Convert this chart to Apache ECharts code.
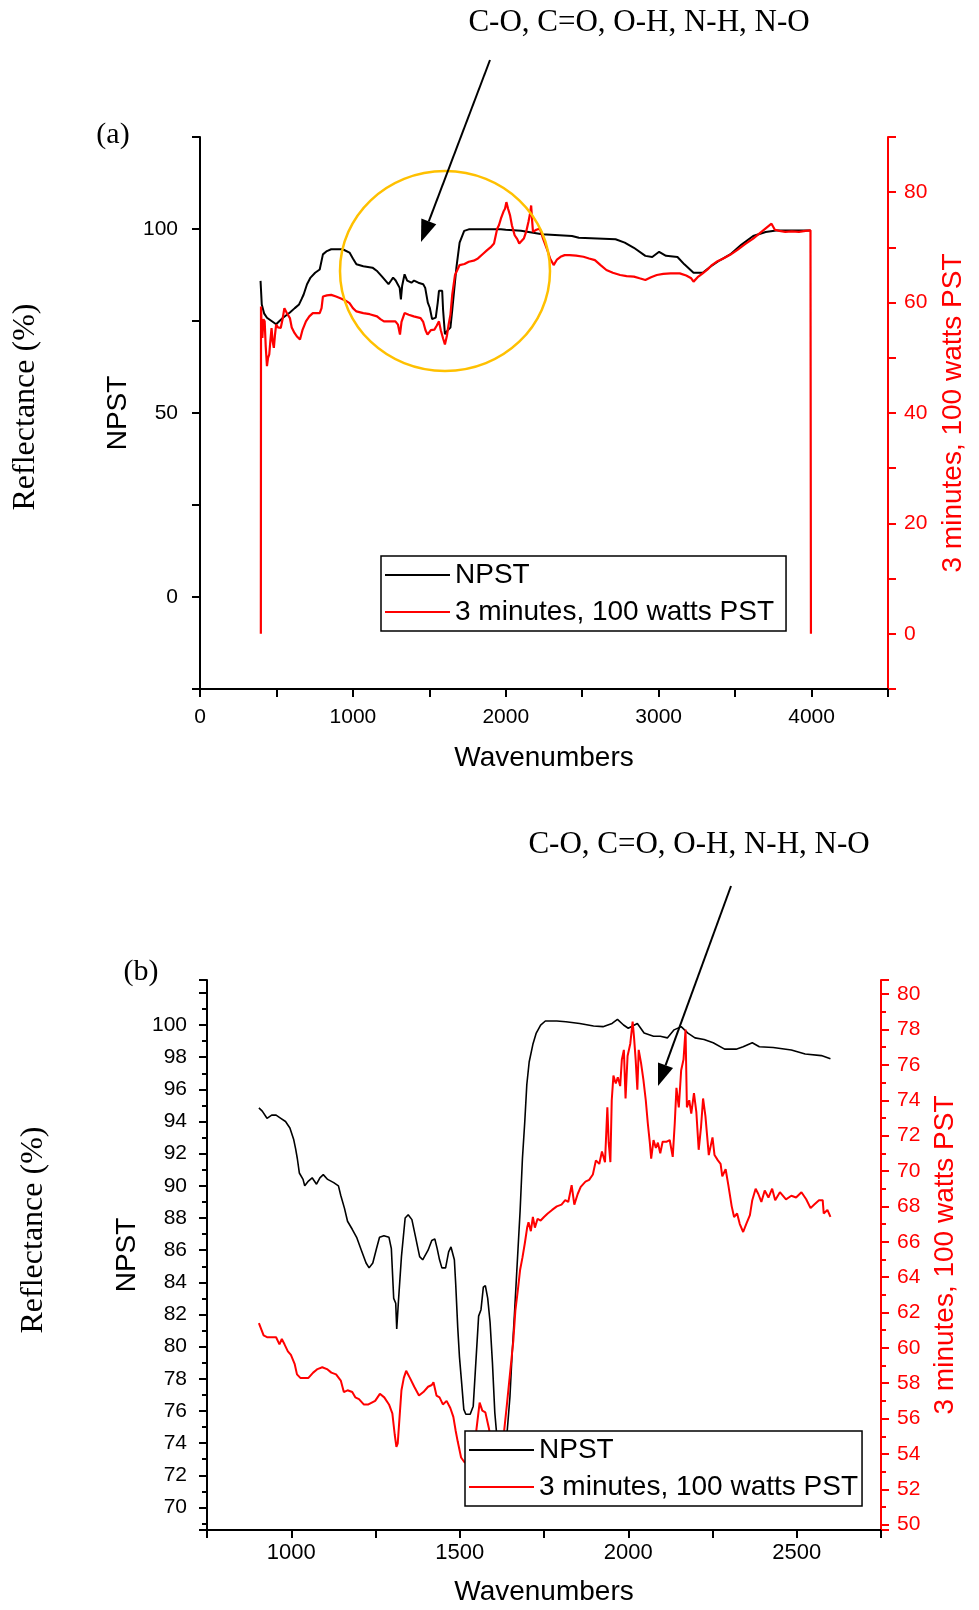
<!DOCTYPE html>
<html>
<head>
<meta charset="utf-8">
<script src="https://cdn.jsdelivr.net/npm/echarts@6/dist/echarts.min.js"></script>
<style>
  html, body { margin: 0; padding: 0; background: #fff; }
  #chart { width: 979px; height: 1610px; }
</style>
</head>
<body>
<div id="chart"></div>
<script>
// (a) full range spectra: [wavenumber, value]
const npstFull = [
  [396, 85.9], [400, 86], [404, 79.5], [408, 79], [420, 77], [438, 75.9], [468, 75], [498, 74.1],
  [520, 75], [543, 75.9], [588, 77.3], [620, 78.5], [648, 79.5], [665, 81], [678, 82.2], [700, 85],
  [723, 86.8], [753, 88.1], [783, 89], [795, 89.2], [804, 93.1], [830, 94], [858, 94.5], [933, 94.5],
  [978, 93.6], [1000, 92], [1023, 90.4], [1068, 89.9], [1128, 89.5], [1160, 88.5], [1188, 87.2],
  [1233, 85], [1250, 86], [1263, 86.8], [1280, 86], [1293, 85], [1306, 84], [1314, 80.9], [1322, 84.5],
  [1338, 87.7], [1355, 86], [1383, 85.4], [1400, 86], [1428, 85.4], [1460, 85], [1473, 84], [1490, 80],
  [1503, 78.6], [1518, 75.5], [1530, 75.2], [1542, 75.9], [1555, 80], [1563, 83.2], [1584, 83.2],
  [1590, 78], [1602, 71.4], [1620, 72.5], [1638, 73.2], [1650, 78], [1662, 83.2], [1677, 89.5],
  [1698, 96.3], [1728, 99.5], [1758, 99.9], [1968, 99.9], [2000, 99.8], [2100, 99.5], [2238, 98.6],
  [2433, 98.1], [2478, 97.6], [2718, 97.2], [2778, 96.3], [2838, 94.9], [2913, 92.7], [2958, 92.4],
  [3003, 93.8], [3048, 92.7], [3123, 92.4], [3168, 90.4], [3228, 88.1], [3288, 88.1], [3340, 89.8],
  [3400, 91.5], [3468, 93.1], [3540, 95.7], [3618, 98.1], [3700, 99.2], [3768, 99.6], [3993, 99.6]
];
const pstFull = [
  [398, 0], [399, 59.3], [404, 55], [408, 53.6], [415, 57], [423, 56.6], [430, 52], [438, 48.5],
  [445, 50], [453, 50.6], [460, 53], [468, 55.4], [475, 53], [483, 51.8], [490, 54], [498, 56],
  [510, 55.5], [528, 55.4], [540, 57], [552, 59], [570, 58], [588, 57.2], [600, 55.5], [618, 54.5],
  [636, 53.8], [654, 53.3], [670, 55], [693, 56.6], [715, 57.5], [738, 58.1], [783, 58.1], [795, 59],
  [804, 61.1], [830, 61.3], [858, 61.4], [890, 61.1], [918, 60.8], [950, 60.4], [978, 59.9], [1000, 59],
  [1023, 58.4], [1068, 58.1], [1110, 57.9], [1158, 57.5], [1180, 57], [1203, 56.6], [1240, 56.6],
  [1278, 56.6], [1295, 56], [1308, 54.2], [1318, 56.5], [1338, 58.1], [1365, 57.8], [1398, 57.5],
  [1443, 57.2], [1460, 56.5], [1475, 55], [1488, 54.2], [1510, 55], [1533, 55.1], [1548, 55.8],
  [1563, 56.6], [1575, 55], [1590, 53.5], [1602, 52.4], [1615, 54], [1626, 56], [1638, 57.8],
  [1650, 61.5], [1668, 65], [1698, 66.8], [1730, 67], [1758, 67.4], [1790, 67.6], [1818, 68],
  [1850, 68.8], [1878, 69.5], [1900, 70], [1923, 70.7], [1944, 73.4], [1955, 74], [1968, 75.2],
  [1985, 76.5], [1995, 77], [2004, 78.2], [2015, 77], [2028, 75.8], [2040, 74], [2058, 72.2],
  [2075, 71.5], [2088, 70.7], [2100, 71], [2118, 71.6], [2135, 73], [2148, 74.6], [2158, 76],
  [2166, 77.6], [2172, 75], [2178, 72.8], [2200, 73.2], [2223, 73.4], [2245, 71.5], [2268, 69.8],
  [2290, 68], [2313, 66.8], [2335, 67.8], [2358, 68.3], [2385, 68.6], [2418, 68.6], [2460, 68.5],
  [2508, 68.3], [2545, 68], [2583, 67.7], [2620, 66.8], [2658, 65.9], [2700, 65.4], [2748, 65],
  [2790, 64.8], [2838, 64.7], [2875, 64.4], [2913, 64.1], [2950, 64.6], [2988, 65], [3030, 65.2],
  [3078, 65.3], [3138, 65.3], [3180, 64.9], [3213, 64.4], [3228, 63.8], [3255, 64.6], [3288, 65.3],
  [3320, 66], [3348, 66.8], [3385, 67.5], [3423, 68], [3470, 68.7], [3513, 69.5], [3565, 70.6],
  [3618, 71.6], [3680, 73], [3738, 74.3], [3760, 73.2], [3790, 73], [3828, 72.8], [3870, 72.9],
  [3918, 72.8], [3960, 73], [3993, 73.1], [3996, 0]
];

// (b) zoomed spectra
const npstZoom = [
  [904, 94.85], [914, 94.65], [928, 94.2], [942, 94.4], [955, 94.4], [969, 94.2], [983, 94.0],
  [996, 93.6], [1007, 92.9], [1013, 92.3], [1018, 91.7], [1024, 90.8], [1035, 90.4], [1040, 90.0],
  [1051, 90.3], [1062, 90.5], [1075, 90.1], [1085, 90.5], [1095, 90.7], [1108, 90.4], [1126, 90.2],
  [1140, 90.0], [1147, 89.4], [1158, 88.6], [1167, 87.8], [1181, 87.3], [1194, 86.8], [1208, 86.0],
  [1222, 85.2], [1231, 84.9], [1242, 85.2], [1253, 86.1], [1262, 86.8], [1275, 86.9], [1290, 86.8],
  [1297, 86.1], [1304, 83.0], [1310, 82.7], [1313, 81.1], [1316, 81.1], [1318, 82.8], [1327, 85.6],
  [1338, 88.0], [1347, 88.2], [1358, 87.9], [1368, 86.9], [1376, 86.1], [1381, 85.6], [1390, 85.4],
  [1406, 86.0], [1417, 86.6], [1426, 86.7], [1433, 86.1], [1440, 85.4], [1447, 84.9], [1458, 84.9],
  [1467, 85.9], [1474, 86.2], [1484, 85.4], [1488, 83.9], [1494, 81.2], [1499, 79.4], [1505, 77.9],
  [1512, 76.1], [1518, 75.8], [1531, 75.8], [1540, 76.3], [1546, 78.4], [1556, 81.9], [1563, 82.3],
  [1570, 83.7], [1576, 83.8], [1583, 83.0], [1590, 81.5], [1597, 79.0], [1604, 75.9], [1611, 74.2],
  [1625, 73.4], [1641, 74.8], [1649, 76.9], [1655, 79.4], [1662, 81.9], [1669, 84.6], [1679, 88.4],
  [1686, 91.7], [1693, 94.0], [1699, 96.3], [1706, 97.7], [1717, 98.8], [1727, 99.5], [1740, 100.0],
  [1754, 100.25], [1788, 100.25], [1815, 100.2], [1856, 100.1], [1897, 99.94], [1925, 99.9],
  [1952, 100.1], [1968, 100.35], [1986, 100.0], [2000, 99.8], [2027, 100.1], [2047, 99.5],
  [2075, 99.3], [2095, 99.3], [2116, 99.2], [2136, 99.7], [2157, 99.9], [2177, 99.5], [2198, 99.2],
  [2225, 99.1], [2252, 98.9], [2286, 98.5], [2320, 98.5], [2341, 98.65], [2368, 98.9], [2389, 98.65],
  [2430, 98.6], [2484, 98.45], [2525, 98.2], [2573, 98.1], [2600, 97.9]
];
const pstZoom = [
  [904, 61.4], [912, 61.0], [918, 60.7], [928, 60.6], [942, 60.6], [955, 60.6], [965, 60.2],
  [972, 60.5], [980, 60.2], [990, 59.8], [999, 59.6], [1010, 59.1], [1017, 58.5], [1027, 58.3],
  [1037, 58.3], [1051, 58.3], [1065, 58.6], [1078, 58.8], [1092, 58.9], [1106, 58.8], [1119, 58.6],
  [1133, 58.5], [1147, 58.15], [1156, 57.5], [1167, 57.6], [1181, 57.5], [1190, 57.2], [1201, 57.1],
  [1215, 56.8], [1229, 56.8], [1249, 57.0], [1263, 57.4], [1276, 57.2], [1290, 56.8], [1300, 56.3],
  [1307, 55.1], [1312, 54.4], [1316, 54.6], [1320, 55.7], [1327, 57.6], [1334, 58.3], [1341, 58.7],
  [1352, 58.3], [1365, 57.8], [1379, 57.3], [1392, 57.5], [1406, 57.8], [1417, 57.9], [1422, 58.05],
  [1431, 57.3], [1440, 57.2], [1450, 56.8], [1461, 57.0], [1472, 56.6], [1481, 56.1], [1488, 55.3],
  [1494, 54.7], [1504, 53.8], [1515, 53.5], [1530, 53.8], [1540, 54.5], [1549, 55.3], [1559, 56.9],
  [1567, 56.45], [1576, 56.35], [1586, 55.5], [1600, 54], [1615, 53.8], [1630, 55], [1640, 56.8],
  [1651, 58.9], [1659, 60.4], [1665, 62.1], [1672, 63.2], [1679, 64.4], [1686, 65.1], [1693, 65.9],
  [1700, 66.8], [1704, 67.1], [1711, 66.6], [1717, 67.4], [1723, 66.8], [1731, 67.3], [1740, 67.2],
  [1750, 67.4], [1761, 67.6], [1774, 67.8], [1788, 68.0], [1802, 68.1], [1813, 68.35], [1822, 68.25],
  [1832, 69.2], [1840, 68.1], [1850, 68.7], [1859, 69.1], [1873, 69.4], [1884, 69.5], [1895, 69.8],
  [1904, 70.6], [1914, 70.4], [1922, 71.1], [1931, 70.5], [1938, 73.6], [1942, 71.6], [1947, 70.5],
  [1951, 74.0], [1956, 75.4], [1963, 74.95], [1969, 75.3], [1976, 74.8], [1981, 76.3], [1987, 76.85],
  [1992, 74.1], [1998, 76.5], [2006, 77.2], [2013, 78.45], [2017, 77.6], [2022, 76.3], [2027, 74.6],
  [2031, 76.85], [2038, 76.1], [2045, 75.15], [2052, 74.0], [2058, 72.7], [2064, 71.6], [2068, 70.7],
  [2075, 71.75], [2082, 71.3], [2088, 71.6], [2095, 71.0], [2102, 71.65], [2113, 71.65], [2123, 71.75],
  [2132, 70.8], [2138, 72.7], [2143, 74.7], [2150, 73.6], [2157, 75.7], [2164, 76.3], [2170, 78.0],
  [2174, 73.6], [2181, 74.0], [2187, 73.25], [2195, 74.4], [2202, 73.35], [2209, 71.2], [2216, 72.5],
  [2222, 74.1], [2229, 73.1], [2239, 70.9], [2250, 71.9], [2256, 70.9], [2266, 70.6], [2274, 70.4],
  [2279, 69.7], [2289, 70.1], [2297, 69.2], [2307, 68.0], [2314, 67.4], [2323, 67.6], [2331, 67.0],
  [2341, 66.55], [2350, 67.0], [2361, 67.5], [2368, 68.35], [2378, 69.0], [2386, 68.7], [2395, 68.25],
  [2405, 68.9], [2416, 68.5], [2427, 69.0], [2436, 68.35], [2450, 68.8], [2468, 68.4], [2484, 68.6],
  [2498, 68.5], [2514, 68.8], [2528, 68.4], [2541, 67.9], [2552, 68.1], [2566, 68.35], [2577, 68.35],
  [2580, 67.6], [2591, 67.8], [2600, 67.4]
];

// tick labels that are actually printed
const topXLabels = [0, 1000, 2000, 3000, 4000];
const topLeftLabels = [0, 50, 100];
const topRightLabels = [0, 20, 40, 60, 80];
const botXLabels = [1000, 1500, 2000, 2500];
const botLeftLabels = [70, 72, 74, 76, 78, 80, 82, 84, 86, 88, 90, 92, 94, 96, 98, 100];
const botRightLabels = [50, 52, 54, 56, 58, 60, 62, 64, 66, 68, 70, 72, 74, 76, 78, 80];

const NPST = 'NPST';
const PST = '3 minutes, 100 watts PST';
const SANS = '"Liberation Sans", Arial, sans-serif';
const SERIF = '"Liberation Serif", "Times New Roman", serif';
const RED = '#ff0000';

const chart = echarts.init(document.getElementById('chart'));

function only(list) {
  return v => list.indexOf(Math.round(v * 1000) / 1000) >= 0 ? String(v) : '';
}

function arrow(x1, y1, x2, y2) {
  const dx = x2 - x1, dy = y2 - y1;
  const len = Math.sqrt(dx * dx + dy * dy);
  const ux = dx / len, uy = dy / len;
  const hl = 22, hw = 8;
  const bx = x2 - ux * hl, by = y2 - uy * hl;
  return [
    { type: 'line', shape: { x1: x1, y1: y1, x2: bx, y2: by }, style: { stroke: '#000', lineWidth: 2 }, z: 10 },
    {
      type: 'polygon',
      shape: { points: [[x2, y2], [bx - uy * hw, by + ux * hw], [bx + uy * hw, by - ux * hw]] },
      style: { fill: '#000' }, z: 10
    }
  ];
}

function txt(x, y, text, font, rot) {
  return {
    type: 'text', x: x, y: y, rotation: rot || 0, z: 10,
    style: { text: text, font: font, fill: '#000', align: 'center', verticalAlign: 'middle' }
  };
}

function legendBox(left, top, padRight) {
  return {
    data: [NPST, PST], orient: 'vertical', left: left, top: top,
    itemWidth: 65, itemHeight: 14, itemGap: 9, padding: [5, padRight, 5, 3],
    backgroundColor: '#fff', borderColor: '#000', borderWidth: 1.5,
    itemStyle: { opacity: 0 },
    textStyle: { fontFamily: SANS, fontSize: 28, color: '#000' },
    selectedMode: false
  };
}

const option = {
  animation: false,
  backgroundColor: '#fff',
  grid: [
    { left: 200, top: 137, width: 688, height: 552 },
    { left: 207, top: 980, width: 674, height: 550 }
  ],
  legend: [legendBox(381, 556, 12), legendBox(465, 1431, 4)],
  xAxis: [
    {
      type: 'value', gridIndex: 0, min: 0, max: 4500, interval: 500,
      axisLine: { onZero: false, lineStyle: { color: '#000', width: 2 } },
      axisTick: { length: 8, lineStyle: { width: 2 } },
      splitLine: { show: false },
      axisLabel: { formatter: only(topXLabels), fontFamily: SANS, fontSize: 21, color: '#000', margin: 18 },
      name: 'Wavenumbers', nameLocation: 'middle', nameGap: 55,
      nameTextStyle: { fontFamily: SANS, fontSize: 28, color: '#000' }
    },
    {
      type: 'value', gridIndex: 1, min: 750, max: 2750, interval: 250,
      axisLine: { onZero: false, lineStyle: { color: '#000', width: 2 } },
      axisTick: { length: 8, lineStyle: { width: 2 } },
      splitLine: { show: false },
      axisLabel: { formatter: only(botXLabels), fontFamily: SANS, fontSize: 22, color: '#000', margin: 12 },
      name: 'Wavenumbers', nameLocation: 'middle', nameGap: 48,
      nameTextStyle: { fontFamily: SANS, fontSize: 28, color: '#000' }
    }
  ],
  yAxis: [
    {
      type: 'value', gridIndex: 0, min: -25, max: 125, interval: 25, position: 'left',
      axisLine: { show: true, onZero: false, lineStyle: { color: '#000', width: 2 } },
      axisTick: { show: true, length: 8, lineStyle: { width: 2 } },
      splitLine: { show: false },
      axisLabel: { formatter: only(topLeftLabels), fontFamily: SANS, fontSize: 21, color: '#000', margin: 22 },
      name: NPST, nameLocation: 'middle', nameGap: 65, nameRotate: 90,
      nameTextStyle: { fontFamily: SANS, fontSize: 28, color: '#000' }
    },
    {
      type: 'value', gridIndex: 0, min: -10, max: 90, interval: 10, position: 'right',
      axisLine: { show: true, onZero: false, lineStyle: { color: RED, width: 2 } },
      axisTick: { show: true, length: 8, lineStyle: { color: RED, width: 2 } },
      splitLine: { show: false },
      axisLabel: { formatter: only(topRightLabels), fontFamily: SANS, fontSize: 21, color: RED, margin: 16 },
      name: PST, nameLocation: 'middle', nameGap: 51, nameRotate: 90,
      nameTextStyle: { fontFamily: SANS, fontSize: 28, color: RED }
    },
    {
      type: 'value', gridIndex: 1, min: 68.6, max: 102.8, minInterval: 2, maxInterval: 2, splitNumber: 17,
      position: 'left',
      axisLine: { show: true, onZero: false, lineStyle: { color: '#000', width: 2 } },
      axisTick: { show: true, length: 8, lineStyle: { width: 2 } },
      minorTick: { show: true, splitNumber: 2, length: 5, lineStyle: { color: '#000', width: 2 } },
      splitLine: { show: false },
      axisLabel: { formatter: only(botLeftLabels), fontFamily: SANS, fontSize: 21, color: '#000', margin: 20 },
      name: NPST, nameLocation: 'middle', nameGap: 66, nameRotate: 90,
      nameTextStyle: { fontFamily: SANS, fontSize: 28, color: '#000' }
    },
    {
      type: 'value', gridIndex: 1, min: 49.7, max: 80.8, minInterval: 2, maxInterval: 2, splitNumber: 16,
      position: 'right',
      axisLine: { show: true, onZero: false, lineStyle: { color: RED, width: 2 } },
      axisTick: { show: true, length: 8, lineStyle: { color: RED, width: 2 } },
      minorTick: { show: true, splitNumber: 2, length: 5, lineStyle: { color: RED, width: 2 } },
      splitLine: { show: false },
      axisLabel: { formatter: only(botRightLabels), fontFamily: SANS, fontSize: 21, color: RED, margin: 16 },
      name: PST, nameLocation: 'middle', nameGap: 50, nameRotate: 90,
      nameTextStyle: { fontFamily: SANS, fontSize: 28, color: RED }
    }
  ],
  series: [
    {
      name: NPST, type: 'line', xAxisIndex: 0, yAxisIndex: 0, data: npstFull,
      symbol: 'none', lineStyle: { color: '#000', width: 2 }, itemStyle: { color: '#000' }
    },
    {
      name: PST, type: 'line', xAxisIndex: 0, yAxisIndex: 1, data: pstFull,
      symbol: 'none', lineStyle: { color: RED, width: 2.2 }, itemStyle: { color: RED }
    },
    {
      name: NPST, type: 'line', xAxisIndex: 1, yAxisIndex: 2, data: npstZoom,
      symbol: 'none', lineStyle: { color: '#000', width: 1.6 }, itemStyle: { color: '#000' }
    },
    {
      name: PST, type: 'line', xAxisIndex: 1, yAxisIndex: 3, data: pstZoom,
      symbol: 'none', lineStyle: { color: RED, width: 2 }, itemStyle: { color: RED }
    }
  ],
  graphic: [
    txt(113, 135, '(a)', '30px ' + SERIF),
    txt(639, 23, 'C-O, C=O, O-H, N-H, N-O', '31px ' + SERIF),
    txt(26, 407, 'Reflectance (%)', '32px ' + SERIF, Math.PI / 2),
    {
      type: 'ellipse', z: 10,
      shape: { cx: 445, cy: 271, rx: 105, ry: 100 },
      style: { fill: 'none', stroke: '#ffc000', lineWidth: 2.5 }
    },
    ...arrow(490, 60, 421, 242),
    txt(141, 972, '(b)', '30px ' + SERIF),
    txt(699, 845, 'C-O, C=O, O-H, N-H, N-O', '31px ' + SERIF),
    txt(34, 1230, 'Reflectance (%)', '32px ' + SERIF, Math.PI / 2),
    ...arrow(731, 886, 658, 1086)
  ]
};

chart.setOption(option);
</script>
</body>
</html>
